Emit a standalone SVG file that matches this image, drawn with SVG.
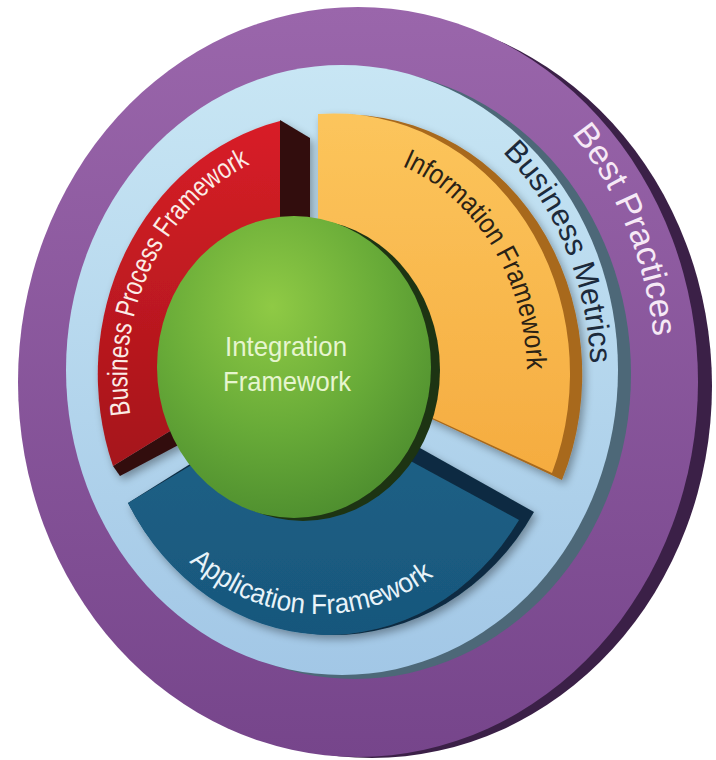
<svg xmlns="http://www.w3.org/2000/svg" width="716" height="760" viewBox="0 0 716 760">
<style>
  .lbl{font-family:"Liberation Sans",Arial,sans-serif;}
</style>
<defs>
  <linearGradient id="gPurple" x1="0" y1="0" x2="0" y2="1">
    <stop offset="0" stop-color="#9a66ab"/>
    <stop offset="1" stop-color="#76458b"/>
  </linearGradient>
  <linearGradient id="gBlueRing" x1="0" y1="0" x2="0" y2="1">
    <stop offset="0" stop-color="#c8e6f4"/>
    <stop offset="1" stop-color="#a2c7e6"/>
  </linearGradient>
  <linearGradient id="gRed" x1="0" y1="0" x2="0" y2="1">
    <stop offset="0" stop-color="#d81f27"/>
    <stop offset="1" stop-color="#a5141a"/>
  </linearGradient>
  <linearGradient id="gYellow" x1="0" y1="0" x2="0" y2="1">
    <stop offset="0" stop-color="#fcc55c"/>
    <stop offset="1" stop-color="#f5ac40"/>
  </linearGradient>
  <linearGradient id="gBlue" x1="0" y1="0" x2="0" y2="1">
    <stop offset="0" stop-color="#1e6288"/>
    <stop offset="1" stop-color="#18577c"/>
  </linearGradient>
  <radialGradient id="gGreen" cx="0.42" cy="0.3" r="0.75">
    <stop offset="0" stop-color="#8fca45"/>
    <stop offset="0.55" stop-color="#68ab38"/>
    <stop offset="1" stop-color="#4c8c2e"/>
  </radialGradient>
  <filter id="shadow" x="-20%" y="-20%" width="140%" height="140%">
    <feGaussianBlur in="SourceAlpha" stdDeviation="4"/>
    <feOffset dx="3" dy="4" result="b"/>
    <feComponentTransfer><feFuncA type="linear" slope="0.35"/></feComponentTransfer>
    <feMerge><feMergeNode/><feMergeNode in="SourceGraphic"/></feMerge>
  </filter>
  <path id="pBest" d="M 502 70 A 301 358 0 0 1 651 448"/>
  <path id="pMetrics" d="M 441.5 108.7 A 236 292 0 0 1 586.3 438.1"/>
  <path id="pInfo" d="M 364.4 154.6 A 192 223 0 0 1 524.7 409.1"/>
  <path id="pBpf" d="M 141.7 459.7 A 208 231 0 0 1 293.6 148.6"/>
  <path id="pApp" d="M 152.7 519.5 A 210 239 0 0 0 474.1 537.4"/>
</defs>

<g id="best-practices">
  <ellipse cx="372" cy="386" rx="340" ry="372" fill="#3b2047"/>
  <ellipse cx="358" cy="382" rx="340" ry="375" fill="url(#gPurple)"/>
  <text class="lbl" font-size="34" fill="#f6e9f6"><textPath href="#pBest" startOffset="48%" text-anchor="middle" textLength="222" lengthAdjust="spacingAndGlyphs">Best Practices</textPath></text>
</g>

<g id="business-metrics">
  <ellipse cx="355" cy="374" rx="276" ry="305" fill="#4d6878"/>
  <ellipse cx="342" cy="370" rx="276" ry="305" fill="url(#gBlueRing)"/>
  <text class="lbl" font-size="31" fill="#1c2a3b"><textPath href="#pMetrics" startOffset="50%" text-anchor="middle" textLength="234" lengthAdjust="spacingAndGlyphs">Business Metrics</textPath></text>
</g>

<g id="business-process-framework" filter="url(#shadow)">
  <path d="M280,120 L310,138 L310,225 L280,225 Z" fill="#300b0d"/>
  <path d="M113,466 L175,428 L186,441 L120,476 Z" fill="#300b0d"/>
  <path d="M280,121 A236,260 0 0 0 113,466 L175,428 L280,330 Z" fill="url(#gRed)"/>
</g>

<g id="information-framework" filter="url(#shadow)">
  <path d="M318,114 A236,260 0 0 1 558,478 L443,424 L330,372 L318,300 Z" fill="#a8691d" transform="translate(4,2)"/>
  <path d="M318,114 A236,260 0 0 1 552,473 L437,420 L330,372 L318,300 Z" fill="url(#gYellow)"/>
</g>

<g id="application-framework" filter="url(#shadow)">
  <path d="M128,503 L300,395 L420,448 L534,512 A236,260 0 0 1 128,503 Z" fill="#0d2c42"/>
  <path d="M128,503 L300,400 L416,464 L519,520 A230,260 0 0 1 128,503 Z" fill="url(#gBlue)"/>
</g>

<g id="integration-framework">
  <ellipse cx="303" cy="370" rx="137" ry="151" fill="#1d3413"/>
  <ellipse cx="294" cy="367" rx="137" ry="151" fill="url(#gGreen)"/>
  <text class="lbl" font-size="28" fill="#e6f5cf" text-anchor="middle" x="286" y="356" textLength="122" lengthAdjust="spacingAndGlyphs">Integration</text>
  <text class="lbl" font-size="28" fill="#e6f5cf" text-anchor="middle" x="287" y="391" textLength="128" lengthAdjust="spacingAndGlyphs">Framework</text>
</g>

<g id="labels">
  <text class="lbl" font-size="28" fill="#2a2215"><textPath href="#pInfo" startOffset="50%" text-anchor="middle" textLength="252" lengthAdjust="spacingAndGlyphs">Information Framework</textPath></text>
  <text class="lbl" font-size="28" fill="#fbece6"><textPath href="#pBpf" startOffset="50%" text-anchor="middle" textLength="296" lengthAdjust="spacingAndGlyphs">Business Process Framework</textPath></text>
  <text class="lbl" font-size="28" fill="#e8f3f9"><textPath href="#pApp" startOffset="50%" text-anchor="middle" textLength="266" lengthAdjust="spacingAndGlyphs">Application Framework</textPath></text>
</g>
</svg>
